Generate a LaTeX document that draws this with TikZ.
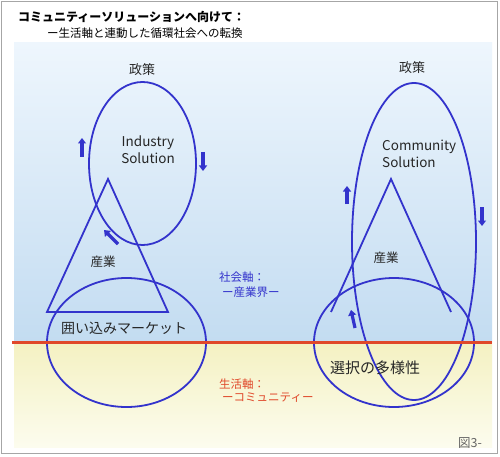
\documentclass[tikz,border=0pt]{standalone}
\usepackage{fontspec}
\setmainfont{Noto Sans CJK JP}
\usetikzlibrary{arrows.meta}
\definecolor{loopblue}{HTML}{3333CC}
\definecolor{axisred}{HTML}{E0482A}
\definecolor{skytop}{HTML}{EEF6FD}
\definecolor{skybot}{HTML}{C3DCF1}
\definecolor{sandtop}{HTML}{F4F1C2}
\definecolor{sandbot}{HTML}{FCFCEE}
\tikzset{
  loop/.style={draw=loopblue, line width=1.8pt},
  flowarrow/.style={draw=loopblue, line width=3.2pt, -{Triangle[length=5.5pt,width=8pt]}},
  label/.style={inner sep=0pt, text=black!85},
  axislabel/.style={inner sep=0pt, anchor=west, font=\fontsize{11.5}{13}\selectfont},
}
\begin{document}
\begin{tikzpicture}[x=1pt,y=-1pt]
\useasboundingbox (0,0) rectangle (500,457);
% frame and panels
\fill[white] (0,0) rectangle (500,457);
\draw[gray!70, line width=1.5pt] (1.5,1.5) rectangle (497.5,453.5);
\shade[top color=skytop, bottom color=skybot] (14,43) rectangle (492,342);
\shade[top color=sandtop, bottom color=sandbot] (14,342) rectangle (492,447);
% title
\node[inner sep=0pt, anchor=west, font=\bfseries\fontsize{12}{14}\selectfont] (title) at (18,17) {コミュニティーソリューションへ向けて：};
\node[inner sep=0pt, anchor=west, font=\fontsize{11.5}{14}\selectfont] (subtitle) at (47,33) {ー生活軸と連動した循環社会への転換};
% left side
\draw[loop] (142.5,163.5) ellipse [x radius=53.5, y radius=81.5];
\draw[loop] (108,179) -- (47,312) -- (168,312) -- cycle;
\draw[loop] (126.5,342.5) ellipse [x radius=79.5, y radius=64.5];
\node[label, font=\fontsize{13}{15}\selectfont] (seisakuL) at (142,70) {政策};
\node[label, align=center, font=\fontsize{13.5}{17}\selectfont] (indsol) at (148,150) {Industry\\Solution};
\node[label, font=\fontsize{12.5}{15}\selectfont] (sangyoL) at (103,262) {産業};
\node[label, font=\fontsize{14}{16}\selectfont] (market) at (124,328) {囲い込みマーケット};
\coordinate (aL1s) at (82,157); \coordinate (aL1e) at (82,138);
\coordinate (aL2s) at (203,152); \coordinate (aL2e) at (203,171);
\coordinate (aL3s) at (118,244); \coordinate (aL3e) at (104,230);
\draw[flowarrow] (aL1s) -- (aL1e);
\draw[flowarrow] (aL2s) -- (aL2e);
\draw[flowarrow] (aL3s) -- (aL3e);
% right side
\draw[loop] (414,241.5) ellipse [x radius=62, y radius=158.5];
\draw[loop] (331,312) -- (391,179) -- (451,312);
\draw[loop] (394,342.5) ellipse [x radius=80, y radius=64.5];
\node[label, font=\fontsize{13}{15}\selectfont] (seisakuR) at (412,68) {政策};
\node[label, align=left, anchor=north west, font=\fontsize{13.5}{17}\selectfont] (comsol) at (382,140) {Community\\Solution};
\node[label, font=\fontsize{12.5}{15}\selectfont] (sangyoR) at (386,258) {産業};
\node[label, font=\fontsize{15}{17}\selectfont] (sentaku) at (375,368) {選択の多様性};
\coordinate (aR1s) at (347,204); \coordinate (aR1e) at (347,186);
\coordinate (aR2s) at (482,207); \coordinate (aR2e) at (482,226);
\coordinate (aR3s) at (355,328); \coordinate (aR3e) at (351,310);
\draw[flowarrow] (aR1s) -- (aR1e);
\draw[flowarrow] (aR2s) -- (aR2e);
\draw[flowarrow] (aR3s) -- (aR3e);
% axis line
\coordinate (axL) at (12,342); \coordinate (axR) at (492,342);
\draw[axisred, line width=3pt] (axL) -- (axR);
% axis labels
\node[axislabel, text=loopblue] (shakai) at (219,277) {社会軸：};
\node[axislabel, text=loopblue] (sangyokai) at (222,292) {ー産業界ー};
\node[axislabel, text=axisred] (seikatsu) at (219,384) {生活軸：};
\node[axislabel, text=axisred] (community) at (222,398) {ーコミュニティー};
\node[inner sep=0pt, anchor=west, text=black!60, font=\fontsize{12.5}{14}\selectfont] (fig) at (458,443) {図3-};
\end{tikzpicture}
\end{document}
